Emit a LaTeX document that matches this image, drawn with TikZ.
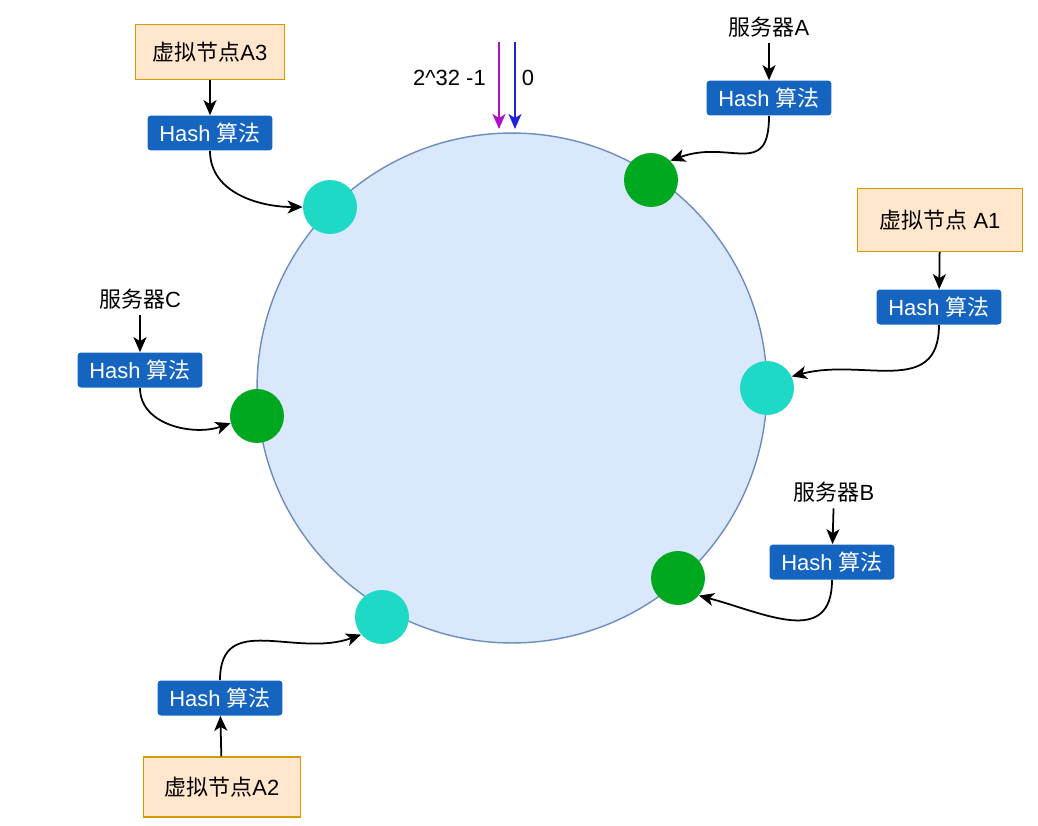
\documentclass[tikz,border=0pt]{standalone}
\usepackage{fontspec}
\setmainfont{Liberation Sans}
\newfontfamily\cjk{Noto Sans CJK SC}
\usetikzlibrary{arrows.meta, positioning}
\definecolor{ringfill}{HTML}{DAE8FC}
\definecolor{ringline}{HTML}{6C8EBF}
\definecolor{vnodefill}{HTML}{FFE6CC}
\definecolor{vnodeline}{HTML}{D79B00}
\definecolor{hashblue}{HTML}{1565C0}
\definecolor{realgreen}{HTML}{00A820}
\definecolor{virtcyan}{HTML}{1ED9C6}
\definecolor{maxpurple}{HTML}{B010C8}
\definecolor{zeroblue}{HTML}{2222DD}
\tikzset{
    link/.style={-{Stealth[length=3mm, width=2.6mm, inset=0.8mm]}, line width=1pt},
    hashbox/.style={fill=hashblue, text=white, rounded corners=2pt, minimum width=2.5cm, minimum height=0.7cm, inner sep=0pt},
    vbox/.style={fill=vnodefill, draw=vnodeline, line width=0.8pt, minimum height=1.1cm, inner sep=0pt},
    realnode/.style={circle, fill=realgreen, minimum size=1.08cm, inner sep=0pt},
    virtnode/.style={circle, fill=virtcyan, minimum size=1.08cm, inner sep=0pt},
    ring/.style={circle, fill=ringfill, draw=ringline, line width=0.8pt, minimum size=10.2cm, inner sep=0pt}
}

\begin{document}
\begin{tikzpicture}[x=0.02cm, y=-0.02cm, font=\fontsize{12.5}{14}\selectfont]
    \useasboundingbox (0,0) rectangle (1038,825);
    % Hash ring
    \node[ring] (ring) at (512,388) {};
    % Start of the ring
    \coordinate (maxin) at (499,42);
    \coordinate (zeroin) at (515,42);
    \draw[link, maxpurple] (maxin) -- ++(0,87);
    \draw[link, zeroblue] (zeroin) -- ++(0,87);
    \node[anchor=east] (maxlbl) at (492,78) {2\textasciicircum32 -1};
    \node (zerolbl) at (528,78) {0};
    % Nodes on the ring
    \node[virtnode] (nodeA3) at (330,207) {};
    \node[realnode] (nodeA) at (651,180) {};
    \node[virtnode] (nodeA1) at (767,388) {};
    \node[realnode] (nodeC) at (257,416) {};
    \node[realnode] (nodeB) at (678,578) {};
    \node[virtnode] (nodeA2) at (382,617) {};
    % Virtual node A3
    \node[vbox, minimum width=2.98cm] (boxA3) at (210,52) {{\cjk 虚拟节点}A3};
    \node[hashbox] (hashA3) at (210,133) {Hash {\cjk 算法}};
    \draw[link] (boxA3) -- (hashA3);
    \draw[link] (hashA3.south) to[out=-90, in=180] (nodeA3.west);
    % Server A
    \node (srvA) at (769,27) {{\cjk 服务器}A};
    \node[hashbox] (hashA) at (769,98) {Hash {\cjk 算法}};
    \draw[link] (srvA) -- (hashA);
    \draw[link] (hashA.south) to[out=-90, in=20, looseness=1.5] (nodeA.45);
    % Virtual node A1
    \node[vbox, minimum width=3.3cm, minimum height=1.26cm] (boxA1) at (940,220) {{\cjk 虚拟节点} A1};
    \node[hashbox] (hashA1) at (939,307) {Hash {\cjk 算法}};
    \draw[link] (boxA1) -- (hashA1);
    \draw[link] (hashA1.south) to[out=-90, in=15, looseness=1.2] (nodeA1.25);
    % Server C
    \node (srvC) at (140,299) {{\cjk 服务器}C};
    \node[hashbox] (hashC) at (140,370) {Hash {\cjk 算法}};
    \draw[link] (srvC) -- (hashC);
    \draw[link] (hashC.south) to[out=-90, in=200] (nodeC.195);
    % Server B
    \node (srvB) at (834,492) {{\cjk 服务器}B};
    \node[hashbox] (hashB) at (832,562) {Hash {\cjk 算法}};
    \draw[link] (srvB) -- (hashB);
    \draw[link] (hashB.south) to[out=-90, in=-15, looseness=1.3] (nodeB.-40);
    % Virtual node A2
    \node[hashbox] (hashA2) at (220,698) {Hash {\cjk 算法}};
    \node[vbox, minimum width=3.14cm, minimum height=1.2cm] (boxA2) at (222,787) {{\cjk 虚拟节点}A2};
    \draw[link] (boxA2) -- (hashA2);
    \draw[link] (hashA2.north) to[out=90, in=200, looseness=1.2] (nodeA2.220);
\end{tikzpicture}
\end{document}
